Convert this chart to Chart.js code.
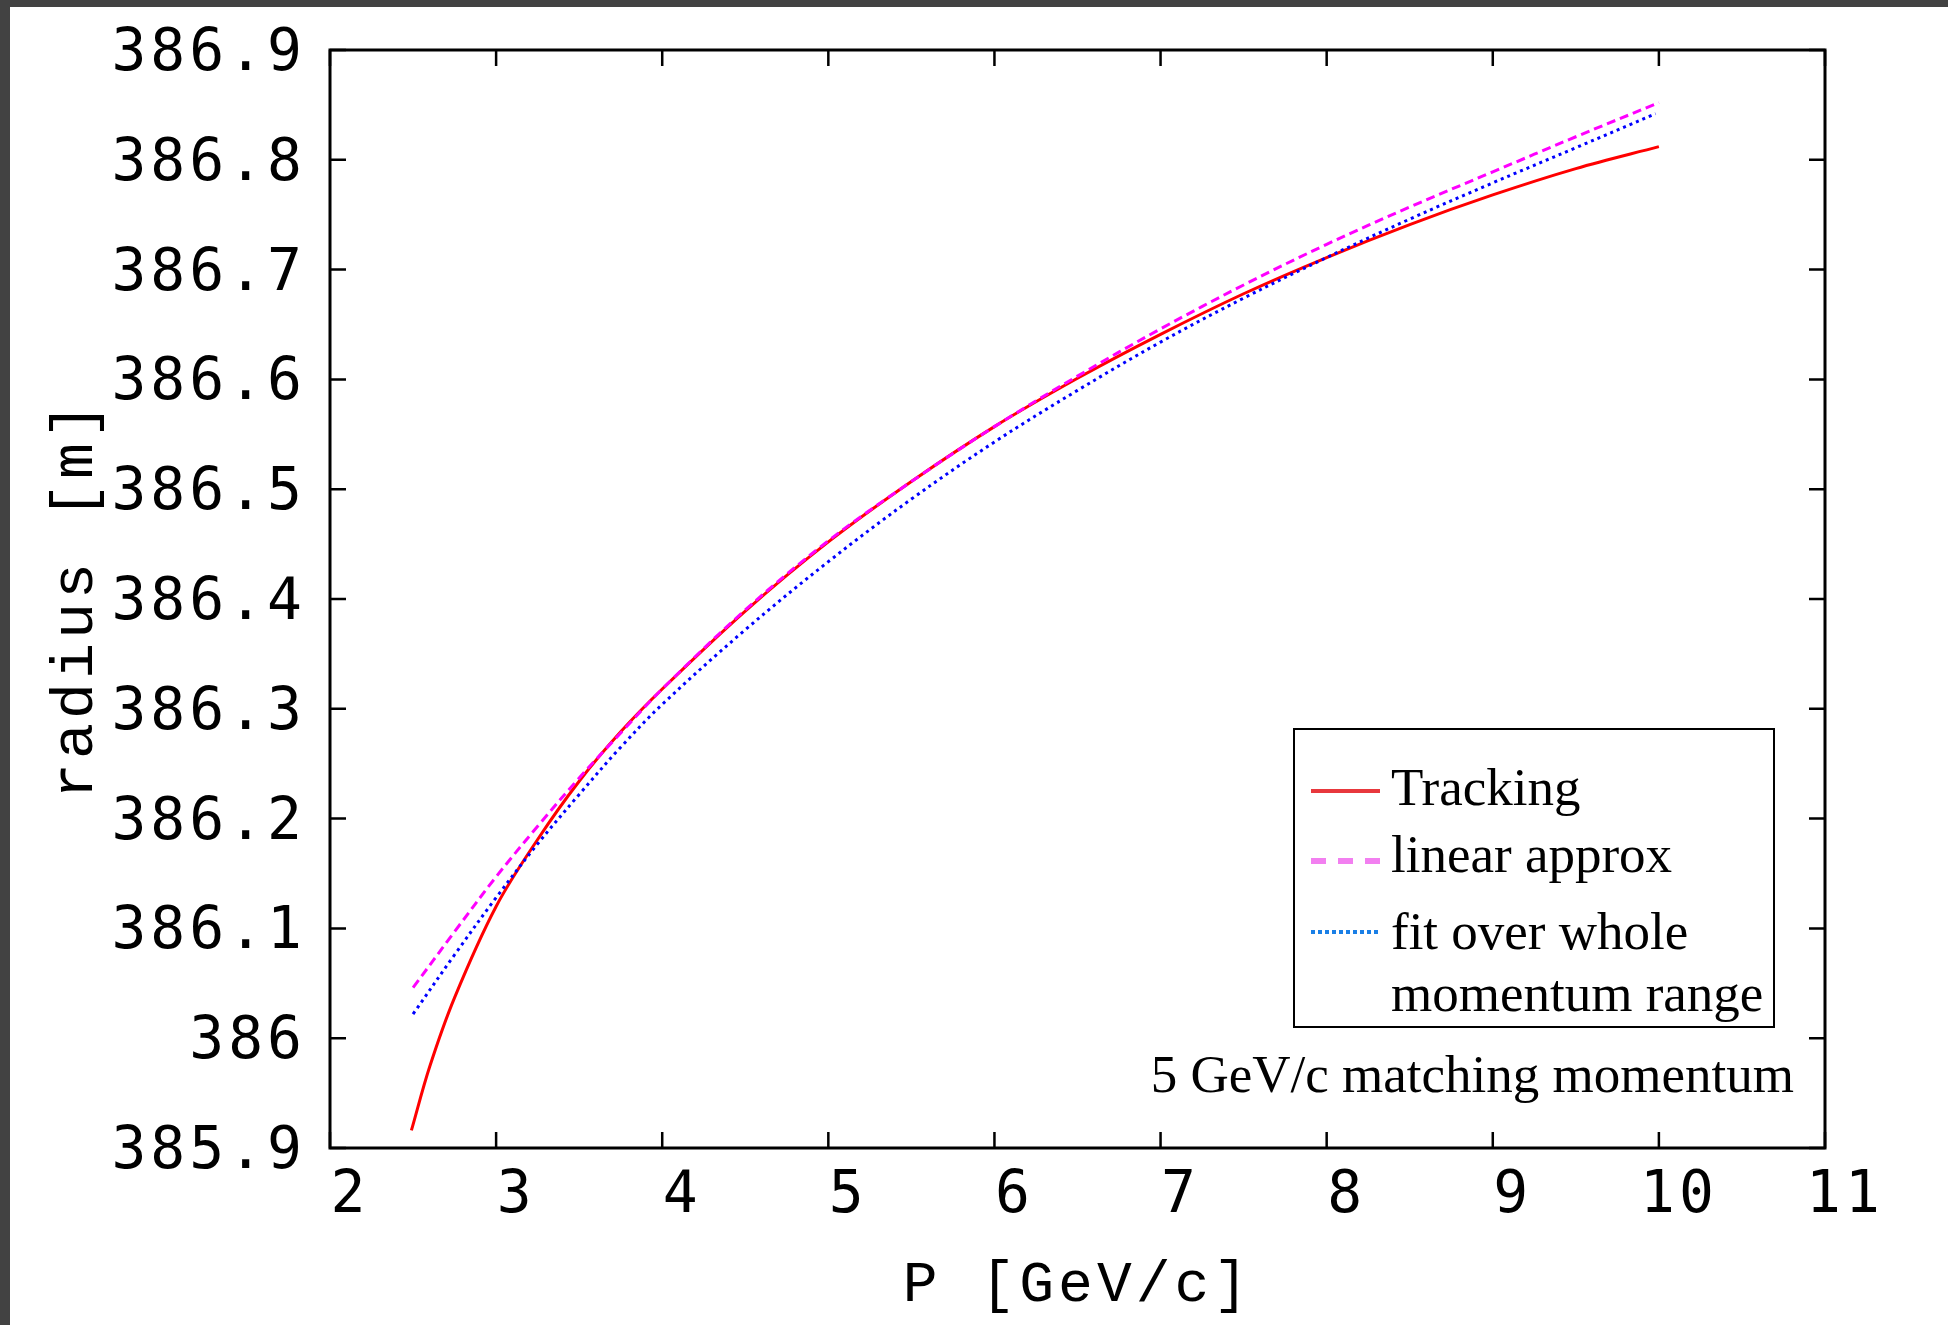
<!DOCTYPE html>
<html>
<head>
<meta charset="utf-8">
<script src="https://cdn.jsdelivr.net/npm/chart.js@4.4.1/dist/chart.umd.min.js"></script>
<style>
  html, body { margin: 0; padding: 0; background: #424242; }
  body { width: 1948px; height: 1325px; overflow: hidden; position: relative; }
  #wrap { position: absolute; left: 10px; top: 7px; width: 1938px; height: 1318px; background: #fff; }
  canvas { display: block; }
</style>
</head>
<body>
<div id="wrap"><canvas id="chart" width="1938" height="1318"></canvas></div>
<script>
// momentum P [GeV/c] and orbit radius [m] for each curve
const trackP = [2.49, 2.6, 2.75, 3, 3.25, 3.5, 3.75, 4, 4.5, 5, 5.5, 6, 6.5, 7, 7.5, 8, 8.5, 9, 9.5, 10];
const trackR = [385.916, 385.974, 386.037, 386.120, 386.181, 386.234, 386.279, 386.318, 386.389, 386.452, 386.507, 386.557, 386.601, 386.641, 386.678, 386.711, 386.741, 386.768, 386.792, 386.812];

const linP = [2.5, 2.75, 3, 3.25, 3.5, 3.75, 4, 4.5, 5, 5.5, 6, 6.5, 7, 7.5, 8, 8.5, 9, 9.5, 10];
const linR = [386.046, 386.097, 386.147, 386.193, 386.237, 386.278, 386.318, 386.390, 386.453, 386.507, 386.557, 386.603, 386.646, 386.686, 386.723, 386.757, 386.789, 386.821, 386.852];

const fitP = [2.5, 2.75, 3, 3.25, 3.5, 3.75, 4, 4.5, 5, 5.5, 6, 6.5, 7, 7.5, 8, 8.5, 9, 9.5, 9.98];
const fitR = [386.022, 386.076, 386.128, 386.177, 386.222, 386.265, 386.304, 386.372, 386.434, 386.491, 386.543, 386.590, 386.634, 386.674, 386.711, 386.746, 386.779, 386.811, 386.842];

const xRange = [2, 11];
const yRange = [385.9, 386.9];

const legendItems = [
  { text: ["Tracking"], color: "#e8383d", dash: [], width: 4 },
  { text: ["linear approx"], color: "#f27ff0", dash: [15, 12], width: 6 },
  { text: ["fit over whole", "momentum range"], color: "#1a7fe6", dash: [4, 3], width: 4 },
];
const note = "5 GeV/c matching momentum";

const toPoints = (xs, ys) => xs.map((x, i) => ({ x: x, y: ys[i] }));

const tickFont = { family: "'DejaVu Sans Mono', monospace", size: 58 };
const titleFont = { family: "'Liberation Mono', 'Courier New', monospace", size: 58 };

// wide letter spacing for axis text, reset for the legend
const spacing = {
  id: "spacing",
  beforeDraw(chart) {
    chart.ctx.letterSpacing = "4px";
  },
};

// frame plus inward ticks on all four sides
const frame = {
  id: "frame",
  afterDraw(chart) {
    const { ctx, chartArea: { left, right, top, bottom }, scales: { x, y } } = chart;
    ctx.save();
    ctx.strokeStyle = "#000";
    ctx.lineWidth = 2.5;
    const len = 16;
    ctx.beginPath();
    x.ticks.forEach((t) => {
      const px = x.getPixelForValue(t.value);
      ctx.moveTo(px, bottom);
      ctx.lineTo(px, bottom - len);
      ctx.moveTo(px, top);
      ctx.lineTo(px, top + len);
    });
    y.ticks.forEach((t) => {
      const py = y.getPixelForValue(t.value);
      ctx.moveTo(left, py);
      ctx.lineTo(left + len, py);
      ctx.moveTo(right, py);
      ctx.lineTo(right - len, py);
    });
    ctx.stroke();
    ctx.lineWidth = 3;
    ctx.strokeRect(left, top, right - left, bottom - top);
    ctx.restore();
  },
};

// boxed legend in the lower right and the note under it
const boxLegend = {
  id: "boxLegend",
  afterDraw(chart) {
    const { ctx, chartArea: { right, bottom } } = chart;
    ctx.save();
    ctx.letterSpacing = "0px";
    const bx1 = right - 531, bx2 = right - 51;
    const by1 = bottom - 419, by2 = bottom - 121;
    ctx.strokeStyle = "#000";
    ctx.lineWidth = 2;
    ctx.strokeRect(bx1, by1, bx2 - bx1, by2 - by1);

    ctx.font = "53px 'Liberation Serif', 'Times New Roman', serif";
    ctx.fillStyle = "#000";
    ctx.textAlign = "left";
    ctx.textBaseline = "alphabetic";
    const textX = bx1 + 97;
    const baselines = [by1 + 76, by1 + 143, by1 + 220];
    const sampleY = [by1 + 62, by1 + 132, by1 + 203];
    legendItems.forEach((item, i) => {
      ctx.beginPath();
      ctx.setLineDash(item.dash);
      ctx.strokeStyle = item.color;
      ctx.lineWidth = item.width;
      ctx.moveTo(bx1 + 17, sampleY[i]);
      ctx.lineTo(bx1 + 86, sampleY[i]);
      ctx.stroke();
      ctx.setLineDash([]);
      item.text.forEach((line, j) => {
        ctx.fillText(line, textX, baselines[i] + j * 62);
      });
    });

    ctx.textAlign = "right";
    ctx.fillText(note, right - 31, bottom - 56);
    ctx.restore();
  },
};

new Chart(document.getElementById("chart"), {
  type: "line",
  data: {
    datasets: [
      {
        label: "Tracking",
        data: toPoints(trackP, trackR),
        borderColor: "#ff0000",
        borderWidth: 3,
        order: 3,
      },
      {
        label: "linear approx",
        data: toPoints(linP, linR),
        borderColor: "#ff00ff",
        borderWidth: 3,
        borderDash: [9, 5],
        order: 2,
      },
      {
        label: "fit over whole momentum range",
        data: toPoints(fitP, fitR),
        borderColor: "#0000ff",
        borderWidth: 3,
        borderDash: [3, 4],
        order: 1,
      },
    ],
  },
  options: {
    responsive: false,
    animation: false,
    events: [],
    elements: {
      point: { radius: 0 },
      line: { tension: 0.35, fill: false },
    },
    layout: { padding: { top: 43, right: 123, left: 0, bottom: 0 } },
    scales: {
      x: {
        type: "linear",
        min: xRange[0],
        max: xRange[1],
        afterFit: (scale) => {
          scale.height = 177;
          scale.paddingLeft = 0;
          scale.paddingRight = 0;
        },
        grid: { display: false, drawTicks: false },
        border: { display: false },
        ticks: {
          stepSize: 1,
          color: "#000",
          font: tickFont,
          padding: 14,
          labelOffset: 20,
          maxRotation: 0,
          autoSkip: false,
          callback: (v) => String(v),
        },
        title: {
          display: true,
          text: "P [GeV/c]",
          color: "#000",
          font: titleFont,
          padding: { top: 0, bottom: 5 },
        },
      },
      y: {
        type: "linear",
        min: yRange[0],
        max: yRange[1],
        afterFit: (scale) => {
          scale.width = 320;
          scale.paddingTop = 0;
          scale.paddingBottom = 0;
        },
        grid: { display: false, drawTicks: false },
        border: { display: false },
        ticks: {
          stepSize: 0.1,
          color: "#000",
          font: tickFont,
          padding: 24,
          labelOffset: 5,
          autoSkip: false,
          callback: (v) => String(Math.round(v * 10) / 10),
        },
        title: {
          display: true,
          text: "radius [m]",
          color: "#000",
          font: { family: titleFont.family, size: 60 },
          padding: { top: 30, bottom: 0 },
        },
      },
    },
    plugins: {
      legend: { display: false },
      tooltip: { enabled: false },
    },
  },
  plugins: [spacing, frame, boxLegend],
});
</script>
</body>
</html>
